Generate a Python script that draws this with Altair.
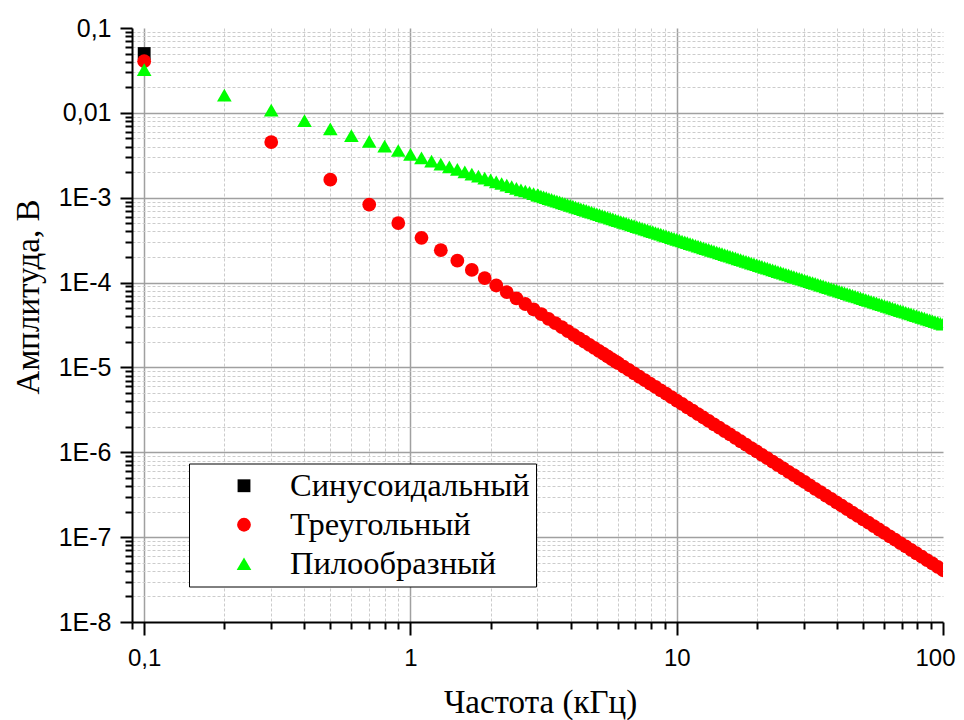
import altair as alt
import pandas as pd

# ---------------- data ----------------
series_names = ["Синусоидальный", "Треугольный", "Пилообразный"]
series_colors = ["#000000", "#ff0000", "#00ff00"]
series_shapes = ["square", "circle", "triangle-up"]
series_sizes = [165, 215, 272]

# sine: one harmonic
sine_freq = [0.1]
sine_amp = [0.05]

# triangle: odd harmonics, separated points
tri_freq = [0.1, 0.3, 0.5, 0.7, 0.9, 1.1, 1.3, 1.5, 1.7, 1.9,
            2.1, 2.3, 2.5, 2.7, 2.9, 3.1, 3.3, 3.5, 3.7, 3.9,
            4.1, 4.3, 4.5, 4.7, 4.9, 5.1, 5.3, 5.5, 5.7, 5.9]
tri_amp = [0.0407, 4.527e-3, 1.63e-3, 8.31e-4, 5.03e-4, 3.37e-4, 2.41e-4, 1.81e-4, 1.41e-4, 1.13e-4,
           9.24e-5, 7.70e-5, 6.52e-5, 5.59e-5, 4.84e-5, 4.24e-5, 3.74e-5, 3.33e-5, 2.98e-5, 2.68e-5,
           2.42e-5, 2.20e-5, 2.01e-5, 1.84e-5, 1.70e-5, 1.57e-5, 1.45e-5, 1.35e-5, 1.25e-5, 1.17e-5]

# sawtooth: all harmonics, separated points
saw_freq = [0.1, 0.2, 0.3, 0.4, 0.5, 0.6, 0.7, 0.8, 0.9, 1.0,
            1.1, 1.2, 1.3, 1.4, 1.5, 1.6, 1.7, 1.8, 1.9, 2.0,
            2.1, 2.2, 2.3, 2.4, 2.5, 2.6, 2.7, 2.8, 2.9, 3.0]
saw_amp = [0.0324, 0.0162, 0.01079, 0.00809, 0.00647, 0.00539, 0.00462, 0.00405, 0.00360, 0.00324,
           0.00294, 0.00270, 0.00249, 0.00231, 0.00216, 0.00202, 0.00190, 0.00180, 0.00170, 0.00162,
           0.00154, 0.00147, 0.00141, 0.00135, 0.00129, 0.00124, 0.00120, 0.00116, 0.00112, 0.00108]

# dense part of the bands (markers merge into a continuous band)
dense_freq = [3.020, 3.090, 3.162, 3.236, 3.311, 3.388, 3.467, 3.548, 3.631, 3.715,
              3.802, 3.890, 3.981, 4.074, 4.169, 4.266, 4.365, 4.467, 4.571, 4.677,
              4.786, 4.898, 5.012, 5.129, 5.248, 5.370, 5.495, 5.623, 5.754, 5.888,
              6.026, 6.166, 6.310, 6.457, 6.607, 6.761, 6.918, 7.079, 7.244, 7.413,
              7.586, 7.762, 7.943, 8.128, 8.318, 8.511, 8.710, 8.913, 9.120, 9.333,
              9.550, 9.772,
              10.00, 10.23, 10.47, 10.72, 10.96, 11.22, 11.48, 11.75, 12.02, 12.30,
              12.59, 12.88, 13.18, 13.49, 13.80, 14.13, 14.45, 14.79, 15.14, 15.49,
              15.85, 16.22, 16.60, 16.98, 17.38, 17.78, 18.20, 18.62, 19.05, 19.50,
              19.95, 20.42, 20.89, 21.38, 21.88, 22.39, 22.91, 23.44, 23.99, 24.55,
              25.12, 25.70, 26.30, 26.92, 27.54, 28.18, 28.84, 29.51, 30.20, 30.90,
              31.62, 32.36, 33.11, 33.88, 34.67, 35.48, 36.31, 37.15, 38.02, 38.90,
              39.81, 40.74, 41.69, 42.66, 43.65, 44.67, 45.71, 46.77, 47.86, 48.98,
              50.12, 51.29, 52.48, 53.70, 54.95, 56.23, 57.54, 58.88, 60.26, 61.66,
              63.10, 64.57, 66.07, 67.61, 69.18, 70.79, 72.44, 74.13, 75.86, 77.62,
              79.43, 81.28, 83.18, 85.11, 87.10, 89.13, 91.20, 93.33, 95.50, 97.72,
              100.0]

saw_dense_amp = [1.072e-3, 1.047e-3, 1.023e-3, 1.000e-3,
                 9.772e-4, 9.550e-4, 9.333e-4, 9.120e-4, 8.913e-4, 8.710e-4, 8.511e-4, 8.318e-4, 8.128e-4, 7.943e-4,
                 7.762e-4, 7.586e-4, 7.413e-4, 7.244e-4, 7.079e-4, 6.918e-4, 6.761e-4, 6.607e-4, 6.457e-4, 6.310e-4,
                 6.166e-4, 6.026e-4, 5.888e-4, 5.754e-4, 5.623e-4, 5.495e-4, 5.370e-4, 5.248e-4, 5.129e-4, 5.012e-4,
                 4.898e-4, 4.786e-4, 4.677e-4, 4.571e-4, 4.467e-4, 4.365e-4, 4.266e-4, 4.169e-4, 4.074e-4, 3.981e-4,
                 3.890e-4, 3.802e-4, 3.715e-4, 3.631e-4, 3.548e-4, 3.467e-4, 3.388e-4, 3.311e-4, 3.236e-4, 3.162e-4,
                 3.090e-4, 3.020e-4, 2.951e-4, 2.884e-4, 2.818e-4, 2.754e-4, 2.692e-4, 2.630e-4, 2.570e-4, 2.512e-4,
                 2.455e-4, 2.399e-4, 2.344e-4, 2.291e-4, 2.239e-4, 2.188e-4, 2.138e-4, 2.089e-4, 2.042e-4, 1.995e-4,
                 1.950e-4, 1.905e-4, 1.862e-4, 1.820e-4, 1.778e-4, 1.738e-4, 1.698e-4, 1.660e-4, 1.622e-4, 1.585e-4,
                 1.549e-4, 1.514e-4, 1.479e-4, 1.445e-4, 1.413e-4, 1.380e-4, 1.349e-4, 1.318e-4, 1.288e-4, 1.259e-4,
                 1.230e-4, 1.202e-4, 1.175e-4, 1.148e-4, 1.122e-4, 1.096e-4, 1.072e-4, 1.047e-4, 1.023e-4, 1.000e-4,
                 9.772e-5, 9.550e-5, 9.333e-5, 9.120e-5, 8.913e-5, 8.710e-5, 8.511e-5, 8.318e-5, 8.128e-5, 7.943e-5,
                 7.762e-5, 7.586e-5, 7.413e-5, 7.244e-5, 7.079e-5, 6.918e-5, 6.761e-5, 6.607e-5, 6.457e-5, 6.310e-5,
                 6.166e-5, 6.026e-5, 5.888e-5, 5.754e-5, 5.623e-5, 5.495e-5, 5.370e-5, 5.248e-5, 5.129e-5, 5.012e-5,
                 4.898e-5, 4.786e-5, 4.677e-5, 4.571e-5, 4.467e-5, 4.365e-5, 4.266e-5, 4.169e-5, 4.074e-5, 3.981e-5,
                 3.890e-5, 3.802e-5, 3.715e-5, 3.631e-5, 3.548e-5, 3.467e-5, 3.388e-5, 3.311e-5, 3.236e-5]

# triangle band, taken at every second entry of dense_freq from 6.026 kHz on
tri_dense_amp = [1.122e-5, 1.023e-5,
                 9.333e-6, 8.511e-6, 7.762e-6, 7.079e-6, 6.457e-6, 5.888e-6, 5.370e-6, 4.898e-6, 4.467e-6, 4.074e-6,
                 3.715e-6, 3.388e-6, 3.090e-6, 2.818e-6, 2.570e-6, 2.344e-6, 2.138e-6, 1.950e-6, 1.778e-6, 1.622e-6,
                 1.479e-6, 1.349e-6, 1.230e-6, 1.122e-6, 1.023e-6,
                 9.333e-7, 8.511e-7, 7.762e-7, 7.079e-7, 6.457e-7, 5.888e-7, 5.370e-7, 4.898e-7, 4.467e-7, 4.074e-7,
                 3.715e-7, 3.388e-7, 3.090e-7, 2.818e-7, 2.570e-7, 2.344e-7, 2.138e-7, 1.950e-7, 1.778e-7, 1.622e-7,
                 1.479e-7, 1.349e-7, 1.230e-7, 1.122e-7, 1.023e-7,
                 9.333e-8, 8.511e-8, 7.762e-8, 7.079e-8, 6.457e-8, 5.888e-8, 5.370e-8, 4.898e-8, 4.467e-8, 4.074e-8]

assert len(dense_freq) == 153 and len(saw_dense_amp) == 153
assert len(dense_freq[30::2]) == len(tri_dense_amp) == 62

# axis tick values
x_major_ticks = [0.1, 1, 10, 100]
x_grid_lines = [0.1, 1, 10]
x_minor_ticks = [0.09, 0.2, 0.3, 0.4, 0.5, 0.6, 0.7, 0.8, 0.9,
                 2, 3, 4, 5, 6, 7, 8, 9,
                 20, 30, 40, 50, 60, 70, 80, 90]
y_major_ticks = [1e-8, 1e-7, 1e-6, 1e-5, 1e-4, 1e-3, 0.01, 0.1]
y_grid_lines = [1e-7, 1e-6, 1e-5, 1e-4, 1e-3, 0.01]
y_minor_ticks = [m * 10.0 ** e for e in range(-8, -1) for m in (2, 3, 4, 5, 6, 7, 8, 9)] + [0.09]

# ---------------- table ----------------
rows = []
for f, a in zip(sine_freq, sine_amp):
    rows.append({"series": series_names[0], "freq": f, "amp": a})
for f, a in zip(tri_freq + dense_freq[30::2], tri_amp + tri_dense_amp):
    rows.append({"series": series_names[1], "freq": f, "amp": a})
for f, a in zip(saw_freq + dense_freq, saw_amp + saw_dense_amp):
    rows.append({"series": series_names[2], "freq": f, "amp": a})
df = pd.DataFrame(rows)
anchor = pd.DataFrame({"freq": sine_freq, "amp": sine_amp})

SANS = "Liberation Sans"
SERIF = "Liberation Serif"

xscale = alt.Scale(type="log", domain=[0.09, 100], nice=False)
yscale = alt.Scale(type="log", domain=[1e-8, 0.1], nice=False)

# minor ticks + dashed minor grid
x_minor_axis = alt.Axis(orient="bottom", values=x_minor_ticks, labels=False, tickSize=7, tickWidth=2,
                        tickColor="#000000", domain=False, grid=True, gridColor="#cccccc", gridWidth=1,
                        gridDash=[3, 2], title=None)
y_minor_axis = alt.Axis(orient="left", values=y_minor_ticks, labels=False, tickSize=7, tickWidth=2,
                        tickColor="#000000", domain=False, grid=True, gridColor="#cccccc", gridWidth=1,
                        gridDash=[3, 2], title=None)
# solid major grid
x_grid_axis = alt.Axis(orient="bottom", values=x_grid_lines, labels=False, ticks=False, domain=False,
                       grid=True, gridColor="#a0a0a0", gridWidth=1.5, title=None)
y_grid_axis = alt.Axis(orient="left", values=y_grid_lines, labels=False, ticks=False, domain=False,
                       grid=True, gridColor="#a0a0a0", gridWidth=1.5, title=None)
# main axes with labels
x_main_axis = alt.Axis(orient="bottom", values=x_major_ticks,
                       labelExpr="datum.value < 0.5 ? '0,1' : format(datum.value, 'd')",
                       labelFont=SANS, labelFontSize=24, labelColor="#000000", labelPadding=11,
                       labelFlush=False, labelOverlap=False,
                       labelAlign={"condition": {"test": "datum.value > 50", "value": "right"}, "value": "center"},
                       labelOffset={"condition": {"test": "datum.value > 50", "value": 12}, "value": 0},
                       tickSize=13, tickWidth=2, tickColor="#000000",
                       domainColor="#000000", domainWidth=2, grid=False,
                       title="Частота (кГц)", titleFont=SERIF, titleFontSize=33, titleFontWeight="normal",
                       titleColor="#000000", titleX=408, titleY=90, titleBaseline="alphabetic")
y_main_axis = alt.Axis(orient="left", values=y_major_ticks,
                       labelExpr="datum.value > 0.05 ? '0,1' : (datum.value > 0.005 ? '0,01' : '1E' + round(log(datum.value) / LN10))",
                       labelFont=SANS, labelFontSize=25, labelColor="#000000", labelPadding=9,
                       labelFlush=False, labelOverlap=False,
                       tickSize=12, tickWidth=2, tickColor="#000000",
                       domainColor="#000000", domainWidth=2, grid=False,
                       title="Амплитуда, В", titleFont=SERIF, titleFontSize=33, titleFontWeight="normal",
                       titleColor="#000000", titleX=-94, titleY=268.5, titleAngle=270,
                       titleBaseline="alphabetic")

leg = alt.Legend(title=None, orient="none", legendX=57, legendY=435.5)

minor_layer = alt.Chart(anchor).mark_point(opacity=0).encode(
    x=alt.X("freq:Q", scale=xscale, axis=x_minor_axis),
    y=alt.Y("amp:Q", scale=yscale, axis=y_minor_axis),
)
grid_layer = alt.Chart(anchor).mark_point(opacity=0).encode(
    x=alt.X("freq:Q", scale=xscale, axis=x_grid_axis),
    y=alt.Y("amp:Q", scale=yscale, axis=y_grid_axis),
)
points = alt.Chart(df).mark_point(filled=True, opacity=1, clip=True).encode(
    x=alt.X("freq:Q", scale=xscale, axis=x_main_axis),
    y=alt.Y("amp:Q", scale=yscale, axis=y_main_axis),
    color=alt.Color("series:N", scale=alt.Scale(domain=series_names, range=series_colors), legend=leg),
    shape=alt.Shape("series:N", scale=alt.Scale(domain=series_names, range=series_shapes), legend=leg),
    size=alt.Size("series:N", scale=alt.Scale(domain=series_names, range=series_sizes), legend=leg),
)

chart = alt.layer(minor_layer, grid_layer, points).resolve_axis(
    x="independent", y="independent"
).properties(
    width=811, height=594,
    autosize=alt.AutoSizeParams(type="none"),
    padding={"left": 124, "top": 20, "right": 13, "bottom": 98},
    background="#ffffff",
).configure_view(strokeWidth=0).configure_legend(
    strokeColor="#000000", fillColor="#ffffff", padding=6,
    labelFont=SERIF, labelFontSize=32.5, labelColor="#000000", labelLimit=400,
    labelOffset=29.75, symbolOffset=32.75, rowPadding=6, symbolStrokeWidth=0,
)

chart.save("out.html", embed_options={"renderer": "svg", "actions": False})
